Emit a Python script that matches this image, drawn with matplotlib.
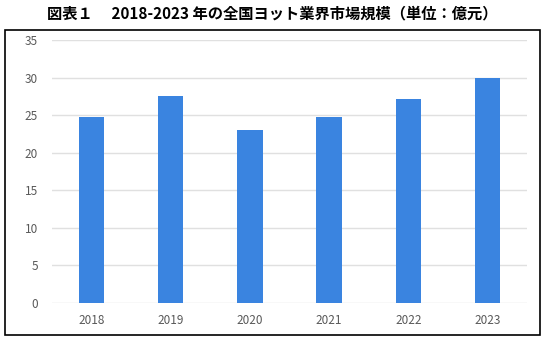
import matplotlib.pyplot as plt
from matplotlib.patches import Rectangle

plt.rcParams['font.family'] = ['Noto Sans CJK JP', 'DejaVu Sans']

years = ["2018", "2019", "2020", "2021", "2022", "2023"]
market_size = [24.8, 27.5, 23.0, 24.7, 27.1, 30.0]
yticks = [0, 5, 10, 15, 20, 25, 30, 35]
title = "図表１　 2018-2023 年の全国ヨット業界市場規模（単位：億元）"

W, H = 545, 340
fig = plt.figure(figsize=(W / 100, H / 100), dpi=100)

# black frame around the chart
fig.patches.append(Rectangle((5 / W, 1 - 335 / H), 535 / W, 305 / H,
                             transform=fig.transFigure, fill=False,
                             edgecolor="black", linewidth=1.2))

fig.text(0.5, 1 - 13 / H, title, ha="center", va="center",
         fontsize=11, fontweight="bold")

ax = fig.add_axes([52 / W, 1 - 303 / H, 475 / W, 263 / H])
x = range(len(years))
ax.bar(x, market_size, width=0.32, color="#3a84e0", zorder=3)
ax.set_xlim(-0.5, len(years) - 0.5)
ax.set_ylim(0, 35)
ax.set_yticks(yticks)
ax.set_xticks(list(x))
ax.set_xticklabels(years)
ax.grid(axis="y", color="#e0e0e0", linewidth=1, zorder=0)
for s in ax.spines.values():
    s.set_visible(False)
ax.tick_params(length=0, colors="#595959", labelsize=8.5)
ax.tick_params(axis="y", pad=10)
ax.tick_params(axis="x", pad=8)

fig.savefig("out.png", dpi=100)
